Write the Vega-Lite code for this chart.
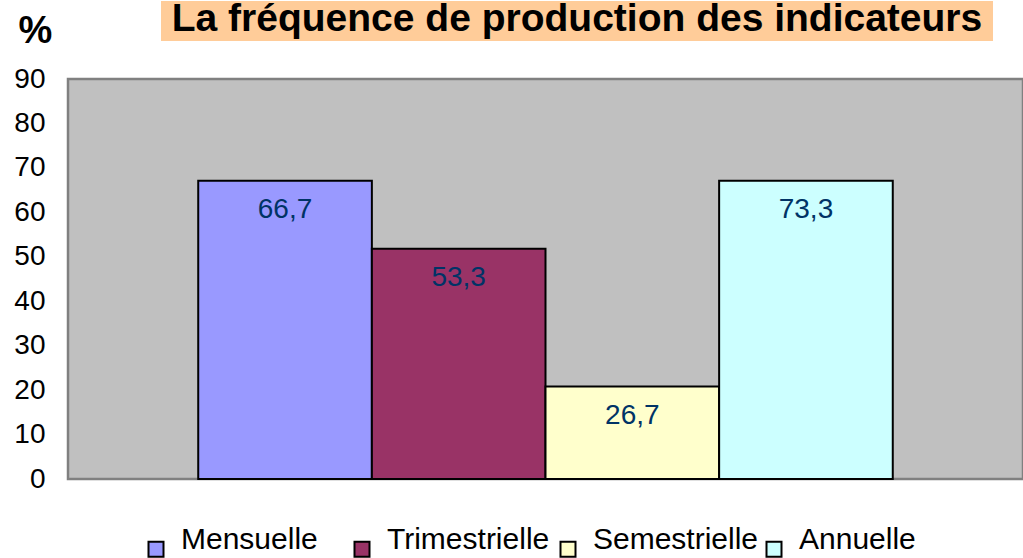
{
  "$schema": "https://vega.github.io/schema/vega-lite/v6.json",
  "padding": {"left": 12, "top": 0, "right": 0, "bottom": 0},
  "background": "white",
  "config": {"font": "Liberation Sans", "view": {"stroke": null}},
  "datasets": {
    "freq": [
      {"frequence": "Mensuelle", "valeur": 67.1, "etiquette": "66,7"},
      {"frequence": "Trimestrielle", "valeur": 51.8, "etiquette": "53,3"},
      {"frequence": "Semestrielle", "valeur": 20.8, "etiquette": "26,7"},
      {"frequence": "Annuelle", "valeur": 67.1, "etiquette": "73,3"}
    ],
    "titre": [{"titre": "La fréquence de production des indicateurs"}]
  },
  "spacing": -31,
  "vconcat": [
    {
      "spacing": 10,
      "hconcat": [
        {
          "width": 83,
          "height": 40,
          "view": {"fill": null, "stroke": null},
          "data": {"name": "titre"},
          "mark": {"type": "text", "fontSize": 10},
          "encoding": {"text": {"value": ""}}
        },
        {
          "width": 832,
          "height": 40,
          "view": {"fill": "#FFCC99", "stroke": null},
          "data": {"name": "titre"},
          "mark": {"type": "text", "fontSize": 39, "fontWeight": "bold", "color": "black", "font": "Liberation Sans", "baseline": "middle", "dy": -2},
          "encoding": {"text": {"field": "titre", "type": "nominal"}}
        }
      ]
    },
    {
      "width": 955,
      "height": 400,
      "view": {"fill": "#C0C0C0", "stroke": "#808080", "strokeWidth": 2.5},
      "data": {"name": "freq"},
      "encoding": {
        "x": {
          "field": "frequence", "type": "nominal",
          "sort": ["Mensuelle", "Trimestrielle", "Semestrielle", "Annuelle"],
          "axis": null,
          "scale": {"paddingInner": 0, "paddingOuter": 0.75}
        },
        "y": {
          "field": "valeur", "type": "quantitative",
          "scale": {"domain": [0, 90], "nice": false},
          "axis": {
            "values": [0, 10, 20, 30, 40, 50, 60, 70, 80, 90],
            "grid": false, "ticks": false, "tickSize": 0, "domain": false,
            "labelFontSize": 28, "labelColor": "black", "labelFont": "Liberation Sans",
            "labelPadding": 23, "labelFlush": false, "labelOverlap": false,
            "title": "%", "titleAngle": 0, "titleX": -50, "titleY": -37,
            "titleAlign": "left", "titleBaseline": "alphabetic",
            "titleFontSize": 38, "titleFontWeight": "bold", "titleColor": "black", "titleFont": "Liberation Sans"
          }
        }
      },
      "layer": [
        {
          "mark": {"type": "bar", "stroke": "black", "strokeWidth": 2},
          "encoding": {
            "color": {
              "field": "frequence", "type": "nominal",
              "sort": ["Mensuelle", "Trimestrielle", "Semestrielle", "Annuelle"],
              "scale": {"domain": ["Mensuelle", "Trimestrielle", "Semestrielle", "Annuelle"], "range": ["#9999FF", "#993366", "#FFFFCC", "#CCFFFF"]},
              "legend": {
                "orient": "none", "legendX": 73, "legendY": 533,
                "direction": "horizontal", "title": null,
                "symbolType": "square", "symbolSize": 225, "symbolStrokeColor": "black", "symbolStrokeWidth": 2,
                "labelFontSize": 30, "labelFont": "Liberation Sans", "labelColor": "black",
                "labelOffset": 10, "columnPadding": 0, "gridAlign": "all", "labelBaseline": "alphabetic", "labelLimit": 300
              }
            }
          }
        },
        {
          "mark": {"type": "text", "baseline": "alphabetic", "dy": 37.5, "fontSize": 28, "color": "#003366", "font": "Liberation Sans"},
          "encoding": {"text": {"field": "etiquette", "type": "nominal"}}
        }
      ]
    }
  ]
}
